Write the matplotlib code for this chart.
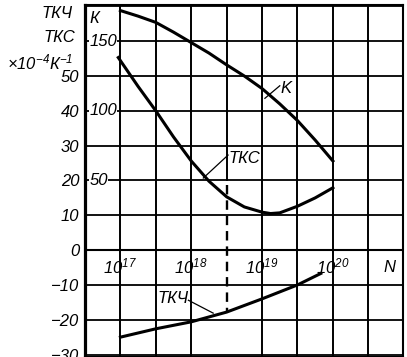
import matplotlib
matplotlib.use('Agg')
import matplotlib.pyplot as plt
import numpy as np

plt.rcParams['font.family'] = ['Liberation Sans', 'DejaVu Sans']
plt.rcParams['font.style'] = 'italic'
plt.rcParams['mathtext.fontset'] = 'custom'
plt.rcParams['mathtext.rm'] = 'Liberation Sans:italic'
plt.rcParams['mathtext.it'] = 'Liberation Sans:italic'

# log10(N) readings for each curve
k_logN = [17.0, 17.25, 17.5, 17.75, 18.0, 18.25, 18.5, 18.75, 19.0, 19.25, 19.5, 19.75, 20.0]
k_vals = [172, 168, 163.5, 156.5, 149, 141.5, 133, 125, 116, 105, 93, 79, 64]

tks_logN = [16.97, 17.25, 17.5, 17.75, 18.0, 18.25, 18.5, 18.75, 19.0, 19.12, 19.25, 19.5, 19.75, 20.0]
tks_vals = [55.3, 47.0, 40.0, 32.5, 25.6, 19.8, 15.3, 12.4, 10.9, 10.5, 10.7, 12.6, 15.0, 17.9]

tkch_logN = [17.0, 17.5, 18.0, 18.5, 19.0, 19.5, 19.75, 19.83]
tkch_vals = [-25.0, -22.6, -20.6, -17.8, -14.0, -10.0, -7.5, -6.7]

left_ticks = [-30, -20, -10, 0, 10, 20, 30, 40, 50]
k_ticks = [50, 100, 150]
x_decades = [17, 18, 19, 20]

Y0, Y1 = -30.7, 70.4
KF = 2.5  # K scale vs left scale

fig = plt.figure(figsize=(4.07, 3.57), dpi=100)
ax = fig.add_axes([85 / 407, 0, 318 / 407, 352 / 357])
ax.set_xscale('log')
ax.set_xlim(10 ** 16.5, 10 ** 20.99)
ax.set_ylim(Y0, Y1)

# grid, drawn by hand (one column stops at the TKC curve)
for g in np.arange(17.0, 21.0, 0.5):
    if g == 18.5:
        ax.axvline(10 ** g, ymin=(20 - Y0) / (Y1 - Y0), color='black', lw=1.4)
    else:
        ax.axvline(10 ** g, color='black', lw=1.4)
for v in range(-30, 71, 10):
    ax.axhline(v, color='black', lw=1.5 if v == 0 else 1.3)

ax.set_xticks([])
ax.set_xticks([], minor=True)
ax.set_yticks(left_ticks)
ax.set_yticklabels([str(t).replace('-', '\u2212') for t in left_ticks], fontsize=12)
ax.tick_params(axis='y', length=0, pad=4)
ax.spines['left'].set_linewidth(2.3)
for s in ['top', 'right', 'bottom']:
    ax.spines[s].set_linewidth(1.5)

N = lambda a: 10.0 ** np.array(a)

ax.plot(N(tks_logN), tks_vals, color='black', lw=2.2)
ax.plot(N(tkch_logN), tkch_vals, color='black', lw=2.2)
ax.plot(N([18.5, 18.5]), [18.7, -17.8], color='black', lw=1.7, dashes=(4, 2.5))

# K on its own scale, same zero
ax2 = ax.twinx()
ax2.set_ylim(Y0 * KF, Y1 * KF)
ax2.set_yticks([])
for s in ax2.spines.values():
    s.set_visible(False)
ax2.plot(N(k_logN), k_vals, color='black', lw=2.2)
for t in k_ticks:
    ax2.text(10 ** 16.56, t, str(t), fontsize=12, ha='left', va='center',
             bbox=dict(facecolor='white', edgecolor='none', pad=0.3))
ax2.text(10 ** 16.56, 166, 'К', fontsize=12, ha='left', va='center')

# curve labels with leaders
ax2.text(10 ** 19.26, 116, 'K', fontsize=12, ha='left', va='center')
ax2.plot(N([19.04, 19.25]), [109, 118], color='black', lw=0.9)
ax.text(10 ** 18.53, 26.4, 'ТКС', fontsize=12, ha='left', va='center')
ax.plot(N([18.17, 18.52]), [20.7, 27.3], color='black', lw=0.9)
ax.text(10 ** 17.97, -13.8, 'ТКЧ', fontsize=12, ha='right', va='center')
ax.plot(N([17.96, 18.31]), [-14.4, -18.1], color='black', lw=0.9)

# x labels sit inside, just under the zero line
for d in x_decades:
    ax.text(10 ** d, -4.6, '$10^{%d}$' % d, fontsize=12, ha='center', va='center')
ax.text(10 ** 20.8, -4.9, 'N', fontsize=12, ha='center', va='center')

# left axis title
fig.text(57 / 407, 1 - 13 / 357, 'ТКЧ', fontsize=12, ha='center', va='center')
fig.text(59 / 407, 1 - 38 / 357, 'ТКС', fontsize=12, ha='center', va='center')
fig.text(40 / 407, 1 - 62 / 357, '$\\times10^{-4}$К$^{-1}$', fontsize=12, ha='center', va='center')

fig.savefig('out.png', dpi=100)
